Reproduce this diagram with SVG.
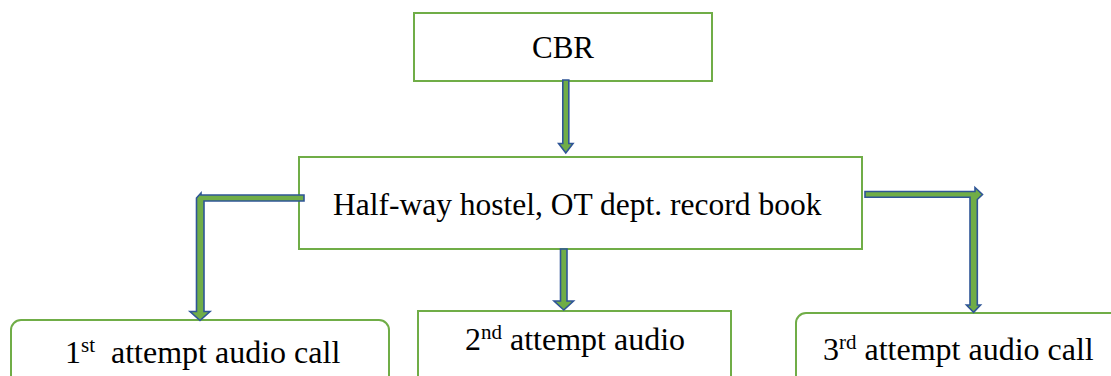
<svg xmlns="http://www.w3.org/2000/svg" width="1111" height="376" viewBox="0 0 1111 376">
<style>
.box{fill:#fff;stroke:#70AD47;stroke-width:2}
.t{font-family:"Liberation Serif","Times New Roman",serif;fill:#000;white-space:pre}
.arr{fill:#70AD47;stroke:#2F5597;stroke-width:1.6;stroke-linejoin:miter}
</style>
<rect width="1111" height="376" fill="#fff"/>
<g id="node-cbr">
<rect class="box" x="414" y="13" width="298" height="68"/>
<text class="t" x="563" y="58" font-size="31" text-anchor="middle">CBR</text>
</g>
<g id="node-hostel">
<rect class="box" x="299" y="157" width="563" height="92"/>
<text class="t" x="333" y="215" font-size="31.5">Half-way hostel, OT dept. record book</text>
</g>
<g id="node-first">
<rect class="box" x="11" y="320" width="378" height="80" rx="10"/>
<text class="t" x="65" y="363" font-size="32">1<tspan font-size="21" dy="-11">st</tspan><tspan dy="11">  attempt audio call</tspan></text>
</g>
<g id="node-second">
<rect class="box" x="418" y="311" width="313" height="80"/>
<text class="t" x="465" y="350" font-size="32">2<tspan font-size="21" dy="-11">nd</tspan><tspan dy="11"> attempt audio</tspan></text>
</g>
<g id="node-third">
<rect class="box" x="796" y="313" width="330" height="80" rx="10"/>
<text class="t" x="823" y="360" font-size="32">3<tspan font-size="21" dy="-11">rd</tspan><tspan dy="11"> attempt audio call</tspan></text>
</g>
<g id="connectors">
<!-- CBR to hostel -->
<polygon class="arr" points="562.8,80 568.8,80 568.8,143.5 573,143.5 565.8,153 558.6,143.5 562.8,143.5"/>
<!-- hostel to second -->
<polygon class="arr" points="560.5,249 567,249 567,301 573.5,301 563.8,310 554,301 560.5,301"/>
<!-- hostel to first: left then down -->
<polygon class="arr" points="304,195 304,201 204,201 204,311.5 210,311.5 200,320.5 190,311.5 196.5,311.5 196.5,201 196.5,198 201,193 201,195"/>
<!-- hostel to third: right then down -->
<polygon class="arr" points="865,191.5 975,191.5 975,187.5 982.5,194.5 977.3,199.5 977.3,305 980.5,305 973.6,312.3 966.5,305 970,305 970,197.3 865,197.3"/>
</g>
</svg>
